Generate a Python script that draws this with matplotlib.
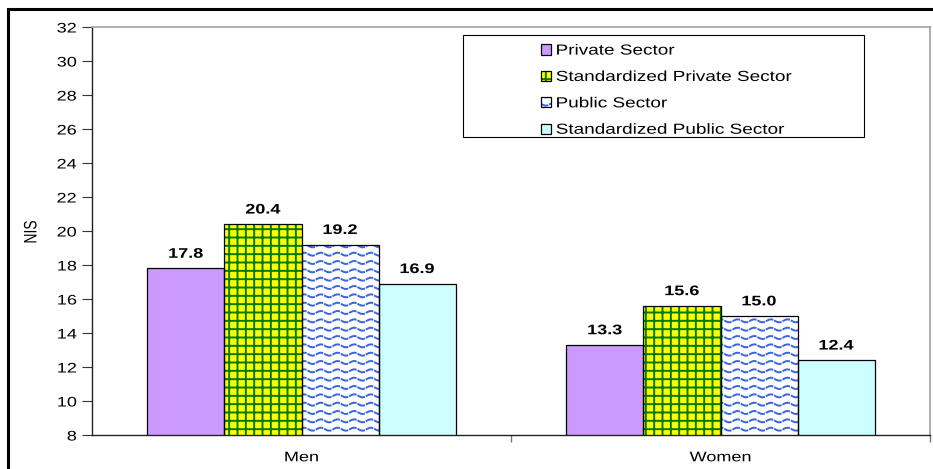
import warnings
import numpy as np
import matplotlib
matplotlib.use('Agg')
import matplotlib.pyplot as plt
from matplotlib import hatch as mhatch
from matplotlib.path import Path
from matplotlib.patches import Rectangle
from matplotlib.patheffects import AbstractPathEffect
from matplotlib.transforms import Affine2D

groups = ['Men', 'Women']
series = ['Private Sector', 'Standardized Private Sector',
          'Public Sector', 'Standardized Public Sector']
values = {
    'Private Sector': [17.8, 13.3],
    'Standardized Private Sector': [20.4, 15.6],
    'Public Sector': [19.2, 15.0],
    'Standardized Public Sector': [16.9, 12.4],
}
yticks = list(range(8, 33, 2))


class WaveHatch(mhatch.HatchPatternBase):
    """Rows of short wavy dashes, selected with '~' in the hatch string."""
    periods = 6
    dashes = 2
    pts = 5

    def __init__(self, hatch, density):
        self.num_rows = int(hatch.count('~') * density)
        self.num_vertices = self.num_rows * self.periods * self.dashes * self.pts

    def set_vertices_and_codes(self, vertices, codes):
        per = 1.0 / self.periods
        k = 0
        for r in range(self.num_rows):
            y0 = (r + 0.5) / self.num_rows
            for p in range(self.periods):
                for d in range(self.dashes):
                    start = p * per + d * per / self.dashes
                    xs = np.linspace(start, start + 0.34 * per, self.pts)
                    ys = y0 + 0.015 * np.sin(2 * np.pi * self.periods * xs)
                    vertices[k:k + self.pts, 0] = xs
                    vertices[k:k + self.pts, 1] = ys
                    codes[k] = Path.MOVETO
                    codes[k + 1:k + self.pts] = Path.LINETO
                    k += self.pts


class Widen(AbstractPathEffect):
    """Stretch text horizontally around its left edge, centre or right edge."""

    def __init__(self, sx=1.3, anchor='center'):
        super().__init__()
        self.sx = sx
        self.anchor = anchor

    def draw_path(self, renderer, gc, tpath, affine, rgbFace=None):
        ext = tpath.get_extents(affine)
        cx = {'left': ext.x0, 'center': 0.5 * (ext.x0 + ext.x1),
              'right': ext.x1}[self.anchor]
        t = affine + Affine2D().translate(-cx, 0).scale(self.sx, 1).translate(cx, 0)
        renderer.draw_path(gc, tpath, t, rgbFace)


mhatch._hatch_types.append(WaveHatch)
warnings.filterwarnings('ignore')

plt.rcParams['font.family'] = ['Liberation Sans', 'DejaVu Sans']
plt.rcParams['hatch.linewidth'] = 1.4
SX = 1.3

styles = {
    'Private Sector': dict(color='#cc99ff', hatch=None, hc='black'),
    'Standardized Private Sector': dict(color='#ffff00', hatch='++', hc='#007a00'),
    'Public Sector': dict(color='white', hatch='~~', hc='#3a66e0'),
    'Standardized Public Sector': dict(color='#ccffff', hatch=None, hc='black'),
}

fig = plt.figure(figsize=(9.33, 4.69), dpi=100)
ax = fig.add_axes([92 / 933, 1 - 435 / 469, 838 / 933, 408 / 469])

x = np.arange(len(groups))
w = 0.184
handles = []
for i, name in enumerate(series):
    st = styles[name]
    pos = x + (i - 1.5) * w
    fill = ax.bar(pos, values[name], w, color=st['color'], hatch=st['hatch'],
                  edgecolor=st['hc'], linewidth=0, zorder=2)
    edge = ax.bar(pos, values[name], w, fill=False, edgecolor='black',
                  linewidth=0.9, zorder=3)
    handles.append((fill, edge))
    for xp, v in zip(pos, values[name]):
        ax.text(xp, v + 0.45, f'{v:.1f}', ha='center', va='bottom',
                fontsize=10, fontweight='bold',
                path_effects=[Widen(SX, 'center')])

ax.set_ylim(8, 32)
ax.set_xlim(-0.5, 1.5)
ax.set_yticks(yticks)
ax.tick_params(axis='y', direction='out', length=7, width=0.8,
               labelsize=10, pad=4, color='#333333')
ax.set_xticks(x)
ax.set_xticklabels(groups, fontsize=10)
ax.tick_params(axis='x', which='major', length=0, pad=11)
ax.set_xticks([0.5, 1.5], minor=True)
ax.tick_params(axis='x', which='minor', direction='out', length=5,
               width=1, color='#777777')
for lbl in ax.get_yticklabels():
    lbl.set_path_effects([Widen(SX, 'right')])
for lbl in ax.get_xticklabels():
    lbl.set_path_effects([Widen(SX, 'center')])

for side in ['top', 'right']:
    ax.spines[side].set_color('#a0a0a0')
    ax.spines[side].set_linewidth(1.2)
for side in ['left', 'bottom']:
    ax.spines[side].set_color('#222222')
    ax.spines[side].set_linewidth(1.0)

fig.text(31 / 933, 1 - 232 / 469, 'NIS', rotation=90, ha='center',
         va='center', fontsize=10, path_effects=[Widen(SX, 'center')])

# legend box drawn separately so the entries sit right of its left edge
ax.add_patch(Rectangle((0.443, 0.730), 0.478, 0.25, transform=ax.transAxes,
                       fill=False, edgecolor='black', linewidth=0.8,
                       zorder=5, clip_on=False))
leg = ax.legend(handles, series, loc='upper left',
                bbox_to_anchor=(0.5214, 0.988), frameon=False, fontsize=10.5,
                handlelength=0.7, handleheight=0.7, handletextpad=0.35,
                labelspacing=0.85, borderpad=0.3)
for t in leg.get_texts():
    t.set_path_effects([Widen(SX, 'left')])

# outer frame around the whole chart
fig.patches.append(Rectangle((8 / 933, -0.1), 1.2, 1 - 9 / 469 + 0.1,
                             transform=fig.transFigure, fill=False,
                             edgecolor='black', linewidth=2.2))

fig.savefig('out.png', dpi=100)
